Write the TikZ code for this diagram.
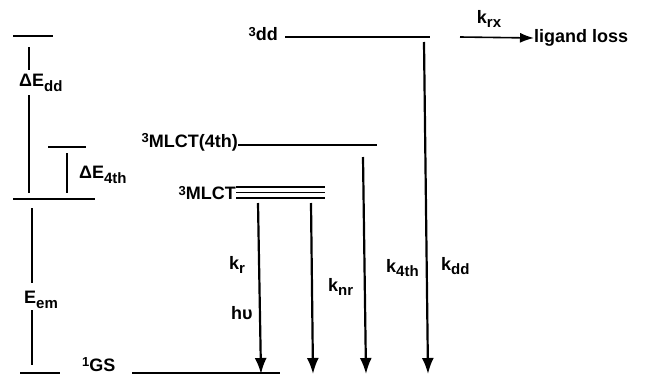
\documentclass[tikz,border=0pt]{standalone}
\usepackage{fontspec}
\setmainfont{Liberation Sans}
\usetikzlibrary{arrows.meta}
\newcommand\lowsub[1]{\raisebox{-0.45ex}{\fontsize{15}{15}\selectfont #1}}
\newcommand\hisup[1]{\raisebox{0.5ex}{\fontsize{13}{13}\selectfont #1}}
\begin{document}
\begin{tikzpicture}[x=1pt,y=-1pt,
  lvl/.style={line width=1.6pt},
  gap/.style={line width=2.2pt},
  decay/.style={line width=2.2pt,-{Latex[length=16pt,width=12pt]}},
  txt/.style={inner sep=0pt,font=\fontsize{18}{18}\selectfont\bfseries}]
\useasboundingbox (0,0) rectangle (647,375);
% left energy ladder
\draw[lvl] (13,36) -- (53,36);
\draw[lvl] (48,147) -- (86,147);
\draw[lvl] (13,199) -- (95,199);
\draw[lvl] (20,373) -- (60,373);
\node[txt,anchor=west] (dEdd) at (19,83) {ΔE\lowsub{dd}};
\node[txt,anchor=west] (dE4) at (79,175) {ΔE\lowsub{4th}};
\node[txt,anchor=west] (Eem) at (24,300) {E\lowsub{em}};
\draw[gap] (29,47) -- (29,70);
\draw[gap] (29,95) -- (29,193);
\draw[gap] (67,153) -- (67,193);
\draw[gap] (32,208) -- (32,283);
\draw[gap] (32,310) -- (32,365);
% states
\node[txt,anchor=east] (dd) at (278,34) {\hisup{3}dd};
\coordinate (ddL) at (285,37);
\coordinate (ddR) at (430,37);
\draw[lvl] (ddL) -- (ddR);
\node[txt,anchor=east] (mlct4) at (238,142) {\hisup{3}MLCT(4th)};
\coordinate (m4R) at (377,145);
\draw[lvl] (mlct4.east |- m4R) -- (m4R);
\node[txt,anchor=east] (mlct) at (236,193) {\hisup{3}MLCT};
\draw[line width=1.3pt] (mlct.east |- 0,187) -- (325,187);
\draw[line width=1.3pt] (mlct.east |- 0,192.5) -- (325,192.5);
\draw[line width=1.3pt] (mlct.east |- 0,198) -- (325,198);
\node[txt,anchor=base west] (gs) at (82,371.5) {\hisup{1}GS};
\draw[lvl] (132,373) -- (280,373);
% ligand loss
\coordinate (rxA) at (460,37);
\node[txt,anchor=west] (lig) at (534,38) {ligand loss};
\draw[line width=1.6pt,-{Latex[length=14pt,width=10pt]}] (rxA) -- (lig.west);
\node[txt] (krx) at (489,19) {k\lowsub{rx}};
% decay arrows
\coordinate (a1) at (258,203); \coordinate (b1) at (261,374);
\coordinate (a2) at (311,203); \coordinate (b2) at (313,374);
\coordinate (a3) at (363,157); \coordinate (b3) at (366,374);
\coordinate (a4) at (424,42);  \coordinate (b4) at (428,374);
\draw[decay] (a1) -- (b1);
\draw[decay] (a2) -- (b2);
\draw[decay] (a3) -- (b3);
\draw[decay] (a4) -- (b4);
\node[txt,anchor=west] (kr) at (229,265) {k\lowsub{r}};
\node[txt,anchor=west] (hv) at (231,313) {hυ};
\node[txt,anchor=west] (knr) at (328,287) {k\lowsub{nr}};
\node[txt,anchor=west] (k4) at (386,268) {k\lowsub{4th}};
\node[txt,anchor=west] (kdd) at (441,266) {k\lowsub{dd}};
\end{tikzpicture}
\end{document}
